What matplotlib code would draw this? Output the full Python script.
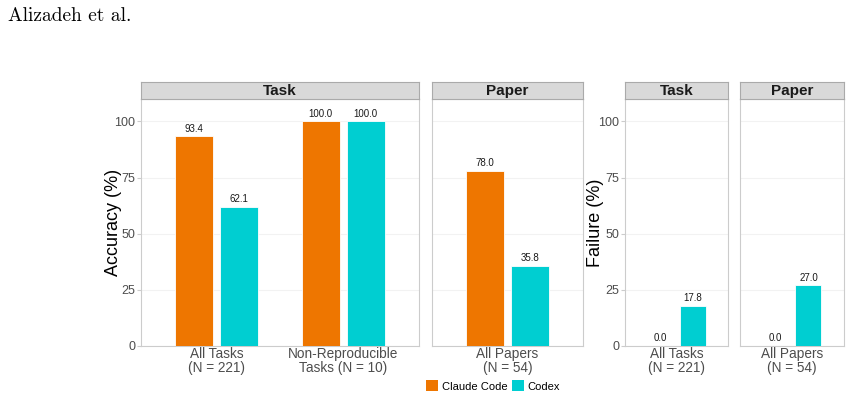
import matplotlib
matplotlib.use("Agg")
import matplotlib.pyplot as plt
from matplotlib.patches import Rectangle

plt.rcParams["font.family"] = ["Liberation Sans", "DejaVu Sans"]

# ---- data ----
agents = ["Claude Code", "Codex"]
colors = ["#EE7600", "#00CED1"]

acc_task_cats = ["All Tasks\n(N = 221)", "Non-Reproducible\nTasks (N = 10)"]
acc_task_claude = [93.4, 100.0]
acc_task_codex = [62.1, 100.0]

acc_paper_cats = ["All Papers\n(N = 54)"]
acc_paper_claude = [78.0]
acc_paper_codex = [35.8]

fail_task_cats = ["All Tasks\n(N = 221)"]
fail_task_claude = [0.0]
fail_task_codex = [17.8]

fail_paper_cats = ["All Papers\n(N = 54)"]
fail_paper_claude = [0.0]
fail_paper_codex = [27.0]

yticks = [0, 25, 50, 75, 100]

W, H = 852, 399
fig = plt.figure(figsize=(W / 100, H / 100), dpi=100)

def px_axes(x0, x1, y0, y1):
    return fig.add_axes([x0 / W, 1 - y1 / H, (x1 - x0) / W, (y1 - y0) / H])

def panel(x0, x1, title, cats, claude, codex, show_y, ylabel=None, ylabel_x=None,
          off=0.178, bw=0.30):
    top, bottom, strip_top = 99, 346, 82
    ax = px_axes(x0, x1, top, bottom)
    n = len(cats)
    xs = list(range(1, n + 1))
    for vals, c, s in ((claude, colors[0], -1), (codex, colors[1], 1)):
        pos = [x + s * off for x in xs]
        ax.bar(pos, vals, width=bw, color=c, edgecolor="white", linewidth=0.6, zorder=3)
        for p, v in zip(pos, vals):
            ax.text(p, v + 1.2, f"{v:.1f}", ha="center", va="bottom", fontsize=7,
                    color="#1a1a1a", zorder=4)
    ax.set_xlim(0.4, n + 0.6)
    ax.set_ylim(0, 110)
    ax.set_xticks(xs)
    ax.set_xticklabels(cats, fontsize=9.8, color="#4D4D4D", linespacing=0.95)
    ax.set_yticks(yticks)
    ax.grid(axis="y", color="#F2F2F2", linewidth=0.8, zorder=0)
    ax.set_axisbelow(True)
    for sp in ax.spines.values():
        sp.set_color("#CCCCCC")
        sp.set_linewidth(0.8)
    ax.tick_params(axis="x", length=0, pad=1)
    if show_y:
        ax.tick_params(axis="y", length=3, color="#CCCCCC", labelsize=9,
                       labelcolor="#4D4D4D", pad=1)
    else:
        ax.tick_params(axis="y", length=0, labelleft=False)
    if ylabel:
        ax.set_ylabel(ylabel, fontsize=13, va="center")
        ax.yaxis.set_label_coords((ylabel_x - x0) / (x1 - x0), 0.5)
    # strip
    sax = px_axes(x0, x1, strip_top, top)
    sax.set_xlim(0, 1); sax.set_ylim(0, 1)
    sax.add_patch(Rectangle((0, 0), 1, 1, facecolor="#D9D9D9", edgecolor="none"))
    sax.set_xticks([]); sax.set_yticks([])
    for sp in sax.spines.values():
        sp.set_color("#AAAAAA")
        sp.set_linewidth(0.8)
    sax.text(0.5, 0.45, title, ha="center", va="center", fontsize=11,
             fontweight="bold", color="#1a1a1a")
    return ax

panel(141, 419, "Task", acc_task_cats, acc_task_claude, acc_task_codex, True,
      "Accuracy (%)", ylabel_x=113)
panel(432, 583, "Paper", acc_paper_cats, acc_paper_claude, acc_paper_codex, False)
panel(625, 728, "Task", fail_task_cats, fail_task_claude, fail_task_codex, True,
      "Failure (%)", ylabel_x=596, off=0.19)
panel(740, 844, "Paper", fail_paper_cats, fail_paper_claude, fail_paper_codex, False, off=0.19)

# legend
handles = [Rectangle((0, 0), 1, 1, facecolor=c) for c in colors]
fig.legend(handles, agents, loc="center", bbox_to_anchor=(493 / W, 1 - 386 / H),
           ncol=2, frameon=False, fontsize=8, handlelength=1.1, handleheight=1.1,
           handletextpad=0.3, columnspacing=0.4, borderpad=0)

fig.text(8 / W, 1 - 16 / H, "Alizadeh et al.", family="cmr10", fontsize=14,
         ha="left", va="center")

fig.savefig("out.png", dpi=100)
